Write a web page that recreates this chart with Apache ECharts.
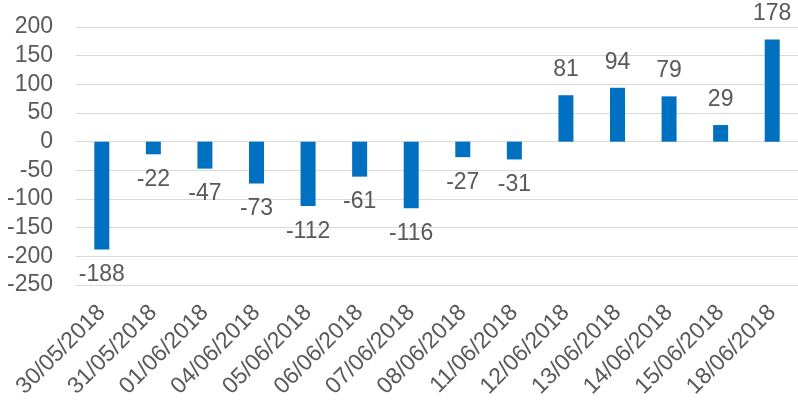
<!DOCTYPE html>
<html>
<head>
<meta charset="utf-8">
<script src="https://cdn.jsdelivr.net/npm/echarts@6/dist/echarts.min.js"></script>
<style>
  html, body { margin: 0; padding: 0; background: #fff; }
  #chart { width: 798px; height: 405px; }
</style>
</head>
<body>
<div id="chart"></div>
<script>
var dates = ['30/05/2018', '31/05/2018', '01/06/2018', '04/06/2018', '05/06/2018', '06/06/2018', '07/06/2018',
    '08/06/2018', '11/06/2018', '12/06/2018', '13/06/2018', '14/06/2018', '15/06/2018', '18/06/2018'];
var values = [-188, -22, -47, -73, -112, -61, -116, -27, -31, 81, 94, 79, 29, 178];
var yMin = -250, yMax = 200, yStep = 50;

var textColor = '#595959';
var font = 'Liberation Sans, Arial, sans-serif';

var myChart = echarts.init(document.getElementById('chart'));
var option = {
    animation: false,
    grid: { left: 76, right: 0, top: 27, bottom: 120, containLabel: false },
    xAxis: {
        type: 'category',
        data: dates,
        axisLine: { show: false },
        axisTick: { show: false },
        axisLabel: {
            rotate: 45,
            interval: 0,
            margin: 24,
            color: textColor,
            fontSize: 23,
            fontFamily: font
        }
    },
    yAxis: {
        type: 'value',
        min: yMin,
        max: yMax,
        interval: yStep,
        axisLine: { show: false },
        axisTick: { show: false },
        splitLine: { lineStyle: { color: '#D9D9D9', width: 1 } },
        axisLabel: {
            margin: 23,
            color: textColor,
            fontSize: 23,
            fontFamily: font
        }
    },
    series: [{
        type: 'bar',
        data: values,
        barWidth: 15,
        itemStyle: { color: '#0070C0' },
        label: {
            show: true,
            position: 'outside',
            distance: 14,
            color: textColor,
            fontSize: 23,
            fontFamily: font
        }
    }]
};
myChart.setOption(option);
</script>
</body>
</html>
